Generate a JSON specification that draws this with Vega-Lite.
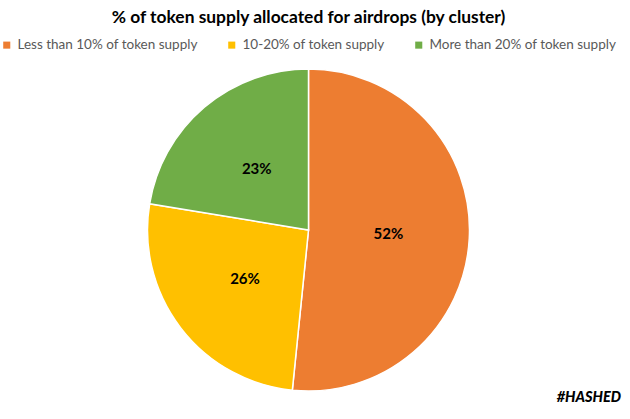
{
  "$schema": "https://vega.github.io/schema/vega-lite/v6.json",
  "width": 630,
  "height": 419,
  "autosize": {"type": "fit", "contains": "padding"},
  "padding": {"top": 8, "left": 0, "right": 9, "bottom": 14},
  "background": "white",
  "title": {
    "text": "% of token supply allocated for airdrops (by cluster)",
    "font": "Lato",
    "fontSize": 17.4,
    "fontWeight": "bold",
    "color": "#000000",
    "anchor": "middle",
    "offset": 12
  },
  "config": {"view": {"stroke": null}},
  "data": {
    "values": [
      {"cluster": "Less than 10% of token supply", "share": 51.6, "label": "52%", "order": 1},
      {"cluster": "10-20% of token supply", "share": 26.0, "label": "26%", "order": 2},
      {"cluster": "More than 20% of token supply", "share": 22.4, "label": "23%", "order": 3}
    ]
  },
  "encoding": {
    "theta": {"field": "share", "type": "quantitative", "stack": true},
    "order": {"field": "order", "type": "quantitative"}
  },
  "layer": [
    {
      "mark": {"type": "arc", "radius": 161, "stroke": "white", "strokeWidth": 1.5},
      "encoding": {
        "color": {
          "field": "cluster",
          "type": "nominal",
          "scale": {
            "domain": ["Less than 10% of token supply", "10-20% of token supply", "More than 20% of token supply"],
            "range": ["#ED7D31", "#FFC000", "#70AD47"]
          },
          "legend": {
            "orient": "top",
            "direction": "horizontal",
            "title": null,
            "symbolType": "square",
            "symbolSize": 50,
            "symbolStrokeWidth": 0,
            "labelFont": "Lato",
            "labelFontSize": 13.5,
            "labelColor": "#595959",
            "labelLimit": 0,
            "columnPadding": 27,
            "offset": 16,
            "padding": 0
          }
        }
      }
    },
    {
      "mark": {"type": "text", "radius": 80, "font": "Lato", "fontSize": 15, "fontWeight": "bold", "color": "#000000"},
      "encoding": {"text": {"field": "label"}}
    },
    {
      "data": {"values": [{"logo": "#HASHED"}]},
      "mark": {"type": "text", "font": "Lato", "fontSize": 14.5, "fontWeight": 900, "fontStyle": "italic", "color": "#000000", "align": "right", "baseline": "middle", "dx": 4, "dy": 6},
      "encoding": {
        "x": {"value": "width"},
        "y": {"value": "height"},
        "text": {"field": "logo"},
        "theta": null,
        "order": null
      }
    }
  ]
}
